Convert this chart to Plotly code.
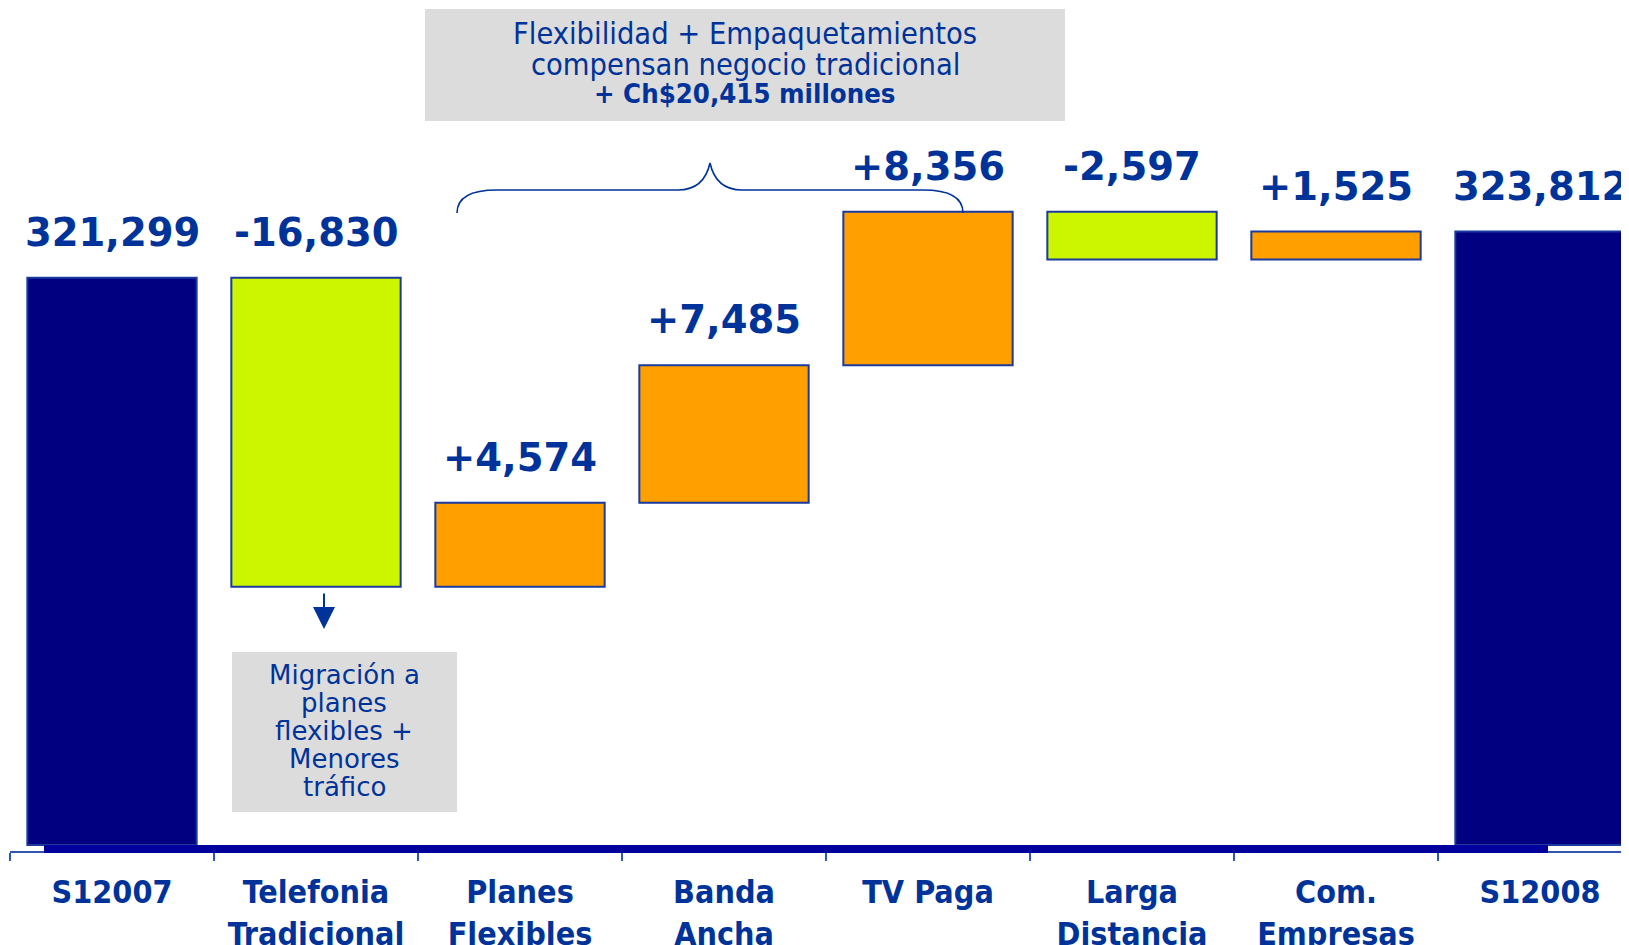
import plotly.graph_objects as go

# data
categories = ["S12007", "Telefonia<br>Tradicional", "Planes<br>Flexibles", "Banda<br>Ancha",
              "TV Paga", "Larga<br>Distancia", "Com.<br>Empresas", "S12008"]
start_total = 321299
changes = [-16830, 4574, 7485, 8356, -2597, 1525]
end_total = 323812

box_top_lines = ["Flexibilidad + Empaquetamientos", "compensan negocio tradicional",
                 "<b>+ Ch$20,415 millones</b>"]
box_bottom_lines = ["Migración a", "planes", "flexibles +", "Menores", "tráfico"]

# style
NAVY = "#000080"
LIME = "#CCF500"
ORANGE = "#FFA000"
EDGE = "#1A3A9E"
TXT = "#003399"
FLOOR = 290400  # bottom of the broken axis

# figure geometry; the page body adds an 8px offset, so work in screen pixels
OFF = 8
W_FIG, H_FIG = 1629, 945
ML = 10 - OFF
PLOT_TOP, PLOT_BOTTOM = OFF, 851          # screen pixels
PH = PLOT_BOTTOM - PLOT_TOP
MB = H_FIG - (PLOT_BOTTOM - OFF)
PW = W_FIG - ML
CAT_PX = 204.0
K = 0.01836  # px per unit


def px(x):
	return (x - 10) / PW


def py(y):
	return (PLOT_BOTTOM - y) / PH


# waterfall bases / heights
bases, heights, colors, labels = [], [], [], []
bases.append(FLOOR); heights.append(start_total - FLOOR); colors.append(NAVY)
labels.append(f"{start_total:,}")
level = start_total
for c in changes:
	if c < 0:
		bases.append(level + c); heights.append(-c); colors.append(LIME)
	else:
		bases.append(level); heights.append(c); colors.append(ORANGE)
	labels.append(f"{c:+,}")
	level += c
bases.append(FLOOR); heights.append(end_total - FLOOR); colors.append(NAVY)
labels.append(f"{end_total:,}")

bars = go.Bar(
	x=categories, y=heights, base=bases,
	marker=dict(color=colors, line=dict(color=EDGE, width=2)),
	width=0.83, hoverinfo="skip", showlegend=False)

fig = go.Figure(data=[bars])

ymin = FLOOR - 6 / K
ymax = ymin + PH / K

annotations = []
for cat, b, h, t in zip(categories, bases, heights, labels):
	annotations.append(dict(
		x=cat, y=b + h, xref="x", yref="y", text=f"<b>{t}</b>", showarrow=False,
		yanchor="bottom", yshift=21,
		font=dict(family="DejaVu Sans", size=38.5, color=TXT)))

top_baselines = [43, 74, 103]
top_sizes = [30.5, 30.5, 27.3]
for line, bl, sz in zip(box_top_lines, top_baselines, top_sizes):
	annotations.append(dict(
		x=px(745), y=py(bl - 10), xref="paper", yref="paper", text=line,
		showarrow=False, yanchor="middle", xanchor="center",
		font=dict(family="DejaVu Sans Condensed", size=sz, color=TXT)))

bottom_baselines = [684, 712, 740, 768, 796]
for line, bl in zip(box_bottom_lines, bottom_baselines):
	annotations.append(dict(
		x=px(344), y=py(bl - 9), xref="paper", yref="paper", text=line,
		showarrow=False, yanchor="middle", xanchor="center",
		font=dict(family="DejaVu Sans", size=26, color=TXT)))

# arrow under Telefonia Tradicional
annotations.append(dict(
	x=px(324), y=py(629), xref="paper", yref="paper", text="",
	showarrow=True, axref="pixel", ayref="pixel", ax=0, ay=-37,
	arrowhead=2, arrowsize=2.2, arrowwidth=2, arrowcolor=TXT))

# curly brace path
pts = [("M", (457, 213)), ("Q", (457, 190), (497, 190)), ("L", (678, 190)),
       ("Q", (704, 190), (710, 163)), ("Q", (716, 190), (742, 190)),
       ("L", (923, 190)), ("Q", (963, 190), (963, 213))]
path = ""
for item in pts:
	path += item[0] + " " + " ".join(f"{px(a):.5f},{py(b):.5f}" for a, b in item[1:]) + " "

shapes = [
	dict(type="rect", xref="paper", yref="paper", x0=px(425), x1=px(1065),
		 y0=py(121), y1=py(9), fillcolor="#DCDCDC", line=dict(width=0), layer="below"),
	dict(type="rect", xref="paper", yref="paper", x0=px(232), x1=px(457),
		 y0=py(812), y1=py(652), fillcolor="#DCDCDC", line=dict(width=0), layer="below"),
	dict(type="path", xref="paper", yref="paper", path=path.strip(),
		 line=dict(color=TXT, width=1.6)),
	dict(type="line", xref="paper", yref="paper", x0=px(44), x1=px(1548),
		 y0=py(849), y1=py(849), line=dict(color="#00009C", width=8)),
]

fig.update_layout(
	width=W_FIG, height=H_FIG,
	margin=dict(l=ML, r=0, t=0, b=MB),
	plot_bgcolor="white", paper_bgcolor="white",
	xaxis=dict(
		type="category", range=[-0.5, -0.5 + PW / CAT_PX],
		showline=True, linecolor="#2F56B0", linewidth=1.5,
		ticks="outside", tickson="boundaries", ticklen=8, tickwidth=2, tickcolor="#2F56B0",
		ticklabelstandoff=12,
		tickfont=dict(family="DejaVu Sans Condensed", size=32, color=TXT, weight="bold"),
		showgrid=False, zeroline=False),
	yaxis=dict(range=[ymin, ymax], visible=False, showgrid=False, zeroline=False),
	annotations=annotations, shapes=shapes, bargap=0.17)

fig.write_html("out.html")
